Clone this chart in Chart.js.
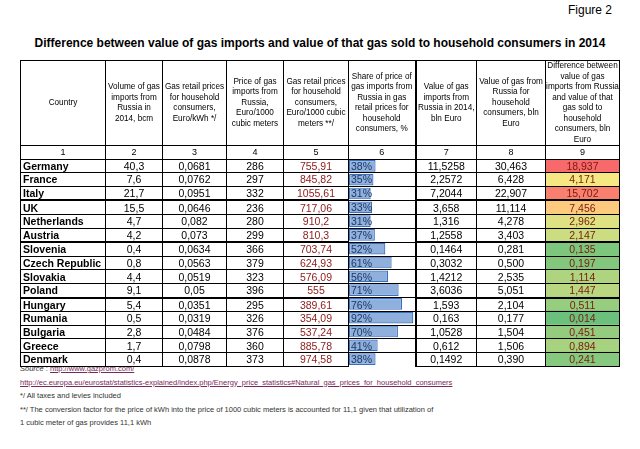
<!DOCTYPE html>
<html>
<head>
<meta charset="utf-8">
<script src="https://cdn.jsdelivr.net/npm/chart.js@4.4.1/dist/chart.umd.min.js"></script>
<style>
  body { margin: 0; background: #fff; font-family: "Liberation Sans", Arial, sans-serif; }
  #wrap { position: relative; width: 640px; height: 449px; overflow: hidden; }
  #fig { position: absolute; right: 28px; top: 3px; font-size: 12px; }
  #title { position: absolute; left: 0; width: 640px; top: 36px; text-align: center; font-size: 12px; font-weight: bold; }
  table { position: absolute; left: 20px; top: 60px; border-collapse: collapse; z-index: 2; table-layout: fixed; }
  td, th { border: 1px solid #000; padding: 0; text-align: center; font-size: 10.5px; height: 12.6px; line-height: 12px; }
  th { font-weight: normal; font-size: 8.2px; line-height: 10.5px; height: 84px; }
  tr.num td { font-size: 9px; }
  td.c { text-align: left; font-weight: bold; padding-left: 2px; }
  td.r5 { color: #8b1a1a; }
  td.p { text-align: left; padding-left: 2px; color: #1f3864; }
  td.d { color: #7a1a10; }
  tr.thick td { border-bottom: 2px solid #000; }
  .tl { border-left: 2px solid #000; }
  .box { position: absolute; z-index: 1; }
  #notes { position: absolute; left: 20px; top: 362px; font-size: 7.5px; color: #333; line-height: 13.5px; }
  #notes a { color: #7a2a5a; text-decoration: underline; }
</style>
</head>
<body>
<div id="wrap">
  <div id="fig">Figure 2</div>
  <div id="title">Difference between value of gas imports and value of that gas sold to household consumers in 2014</div>
  <div id="c6box" class="box"><canvas id="shareChart"></canvas></div>
  <div id="c9box" class="box"><canvas id="diffChart"></canvas></div>
  <table id="tbl"></table>
  <div id="notes">
    <i>Source</i> : <a>http://www.gazprom.com/</a><br>
    <a>http://ec.europa.eu/eurostat/statistics-explained/index.php/Energy_price_statistics#Natural_gas_prices_for_household_consumers</a><br>
    */ All taxes and levies included<br>
    **/ The conversion factor for the price of kWh into the price of 1000 cubic meters is accounted for 11,1 given that utilization of<br>
    1 cubic meter of gas provides 11,1 kWh
  </div>
</div>
<script>
const countries = ["Germany", "France", "Italy", "UK", "Netherlands", "Austria", "Slovenia", "Czech Republic", "Slovakia", "Poland", "Hungary", "Rumania", "Bulgaria", "Greece", "Denmark"];
const volume = ["40,3", "7,6", "21,7", "15,5", "4,7", "4,2", "0,4", "0,8", "4,4", "9,1", "5,4", "0,5", "2,8", "1,7", "0,4"];
const retailKwh = ["0,0681", "0,0762", "0,0951", "0,0646", "0,082", "0,073", "0,0634", "0,0563", "0,0519", "0,05", "0,0351", "0,0319", "0,0484", "0,0798", "0,0878"];
const importPrice = [286, 297, 332, 236, 280, 299, 366, 379, 323, 396, 295, 326, 376, 360, 373];
const retail1000 = ["755,91", "845,82", "1055,61", "717,06", "910,2", "810,3", "703,74", "624,93", "576,09", "555", "389,61", "354,09", "537,24", "885,78", "974,58"];
const share = [38, 35, 31, 33, 31, 37, 52, 61, 56, 71, 76, 92, 70, 41, 38];
const importValue = ["11,5258", "2,2572", "7,2044", "3,658", "1,316", "1,2558", "0,1464", "0,3032", "1,4212", "3,6036", "1,593", "0,163", "1,0528", "0,612", "0,1492"];
const householdValue = ["30,463", "6,428", "22,907", "11,114", "4,278", "3,403", "0,281", "0,500", "2,535", "5,051", "2,104", "0,177", "1,504", "1,506", "0,390"];
const difference = [18.937, 4.171, 15.702, 7.456, 2.962, 2.147, 0.135, 0.197, 1.114, 1.447, 0.511, 0.014, 0.451, 0.894, 0.241];

const headers = ["Country", "Volume of gas imports from Russia in 2014, bcm", "Gas retail prices for household consumers, Euro/kWh */",
  "Price of gas imports from Russia, Euro/1000 cubic meters", "Gas retail prices for household consumers, Euro/1000 cubic meters **/",
  "Share of price of gas imports from Russia in gas retail prices for household consumers, %", "Value of gas imports from Russia in 2014, bln Euro",
  "Value of gas from Russia for household consumers, bln Euro", "Difference between value of gas imports from Russia and value of that gas sold to household consumers, bln Euro"];
const widths = [85, 57, 64, 57, 65, 67, 61, 69, 74];
const thickAfter = [2, 5, 9];

const fmt = (v) => v.toFixed(3).replace('.', ',');

// table text
const tbl = document.getElementById('tbl');
let html = '<colgroup>' + widths.map(w => `<col style="width:${w}px">`).join('') + '</colgroup>';
html += '<tr>' + headers.map((h, i) => `<th${i === 6 ? ' class="tl"' : ''}>${h}</th>`).join('') + '</tr>';
html += '<tr class="num">' + headers.map((h, i) => `<td${i === 6 ? ' class="tl"' : ''}>${i + 1}</td>`).join('') + '</tr>';
countries.forEach((c, i) => {
  html += `<tr${thickAfter.includes(i) ? ' class="thick"' : ''}>` +
    `<td class="c">${c}</td><td>${volume[i]}</td><td>${retailKwh[i]}</td><td>${importPrice[i]}</td>` +
    `<td class="r5">${retail1000[i]}</td><td class="p" style="border-left:none;border-right:none;border-bottom:none">${share[i]}%</td>` +
    `<td class="tl">${importValue[i]}</td><td>${householdValue[i]}</td><td class="d">${fmt(difference[i])}</td></tr>`;
});
tbl.innerHTML = html;

// place chart boxes over the body rows of columns 6 and 9
const rows = tbl.rows;
const rowsTop = rows[2].offsetTop + 60;
const last = rows[rows.length - 1];
const rowsBottom = last.offsetTop + last.offsetHeight + 60;
const placeBox = (id, cell, inset) => {
  const b = document.getElementById(id);
  b.style.top = rowsTop + 'px';
  b.style.height = (rowsBottom - rowsTop) + 'px';
  b.style.left = (20 + cell.offsetLeft + inset) + 'px';
  b.style.width = (cell.offsetWidth - 2 * inset) + 'px';
};
placeBox('c6box', rows[2].cells[5], 1);
placeBox('c9box', rows[2].cells[8], 0);

// heat colour for difference cells: green -> yellow -> red
const heat = (v) => {
  const max = Math.max(...difference);
  const t = Math.sqrt(v / max);
  const stops = [[99, 190, 123], [255, 235, 132], [248, 105, 107]];
  const seg = t < 0.5 ? 0 : 1;
  const k = t < 0.5 ? t / 0.5 : (t - 0.5) / 0.5;
  const a = stops[seg], b = stops[seg + 1];
  return `rgb(${a.map((x, j) => Math.round(x + (b[j] - x) * k)).join(',')})`;
};

const hiddenScales = (xmax) => ({
  x: { display: false, min: 0, max: xmax },
  y: { display: false }
});

new Chart(document.getElementById('shareChart'), {
  type: 'bar',
  data: {
    labels: countries,
    datasets: [{
      data: share,
      backgroundColor: (ctx) => {
        const { chart } = ctx;
        const el = chart.getDatasetMeta(0).data[ctx.dataIndex];
        if (!el || !chart.chartArea || !isFinite(el.x) || !isFinite(el.base)) return '#8fb0dd';
        const g = chart.ctx.createLinearGradient(el.base, 0, el.x, 0);
        g.addColorStop(0, '#5b8bd0');
        g.addColorStop(1, '#ffffff');
        return g;
      },
      borderColor: '#3a6fc0',
      borderWidth: 1.2,
      borderSkipped: false,
      barPercentage: 0.85,
      categoryPercentage: 1
    }]
  },
  options: {
    indexAxis: 'y', responsive: true, maintainAspectRatio: false, animation: false,
    layout: { padding: 0 },
    scales: hiddenScales(93),
    plugins: { legend: { display: false }, tooltip: { enabled: false } }
  }
});

new Chart(document.getElementById('diffChart'), {
  type: 'bar',
  data: {
    labels: countries,
    datasets: [{
      data: difference.map(() => [0, 1]),
      backgroundColor: difference.map(heat),
      borderWidth: 0,
      barPercentage: 1,
      categoryPercentage: 1
    }]
  },
  options: {
    indexAxis: 'y', responsive: true, maintainAspectRatio: false, animation: false,
    layout: { padding: 0 },
    scales: hiddenScales(1),
    plugins: { legend: { display: false }, tooltip: { enabled: false } }
  }
});
</script>
</body>
</html>
